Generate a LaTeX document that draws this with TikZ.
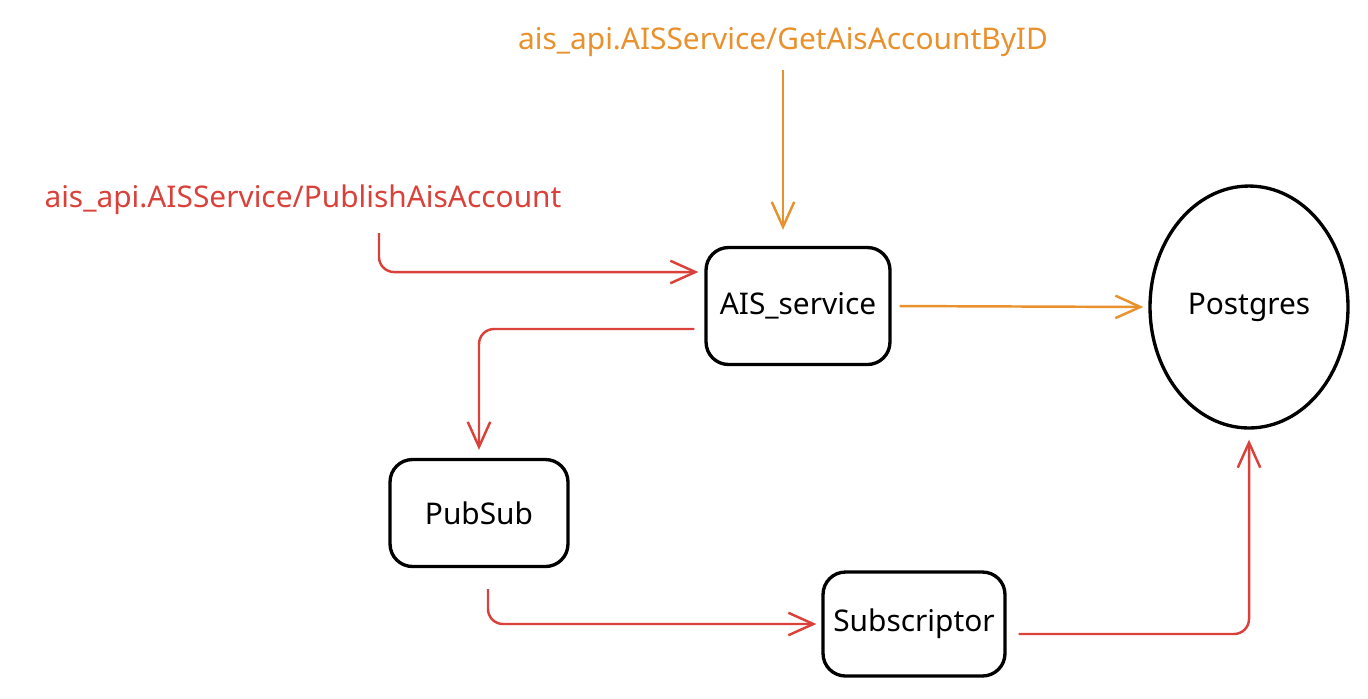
\documentclass[tikz,border=0pt]{standalone}
\usepackage{fontspec}
\setmainfont{Noto Sans}
\usepackage{tikz}
\usetikzlibrary{arrows.meta,calc,shapes.geometric}
\definecolor{callorange}{HTML}{E8912D}
\definecolor{callred}{HTML}{D9413A}

\begin{document}
\begin{tikzpicture}[x=0.02cm,y=-0.02cm,
    box/.style={draw=black,line width=1.9pt,rounded corners=0.45cm,fill=white,font=\fontsize{17}{20}\selectfont},
    dbnode/.style={draw=black,line width=1.9pt,ellipse,minimum width=3.96cm,minimum height=4.84cm,inner sep=0pt,font=\fontsize{17}{20}\selectfont},
    calltext/.style={font=\fontsize{17}{20}\selectfont},
    flow/.style={line width=1.4pt,rounded corners=0.3cm,-{Straight Barb[length=0.5cm,width=0.45cm,line width=1.4pt]}},
    readflow/.style={flow,draw=callorange},
    writeflow/.style={flow,draw=callred}]
    \useasboundingbox (0,0) rectangle (1368,698);
    % calls
    \node[calltext,text=callorange] (getcall) at (783,42) {ais\_api.AISService/GetAisAccountByID};
    \node[calltext,text=callred] (pubcall) at (303,200) {ais\_api.AISService/PublishAisAccount};
    % services
    \node[box,minimum width=3.68cm,minimum height=2.34cm] (ais) at (798,306) {AIS\_service};
    \node[box,minimum width=3.56cm,minimum height=2.14cm] (pubsub) at (479,513) {PubSub};
    \node[box,minimum width=3.64cm,minimum height=2.08cm] (sub) at (914,624) {Subscriptor};
    \node[dbnode] (pg) at (1249,307) {Postgres};
    % free ends
    \coordinate (gettail) at (783,70);
    \coordinate (pubtail) at (379,233);
    % read path
    \draw[readflow,shorten >=0.32cm] (gettail) -- (gettail |- ais.north);
    \draw[readflow,shorten <=0.16cm,shorten >=0.1cm] (ais.east) -- (pg.west);
    % write path
    \draw[writeflow,shorten >=0.12cm] (pubtail) |- ([yshift=0.68cm]ais.west);
    \draw[writeflow,shorten <=0.2cm,shorten >=0.16cm] ([yshift=-0.46cm]ais.west) -| (pubsub.north);
    \draw[writeflow,shorten <=0.42cm,shorten >=0.1cm] ([xshift=0.18cm]pubsub.south) |- (sub.west);
    \draw[writeflow,shorten <=0.24cm,shorten >=0.2cm] ([yshift=-0.2cm]sub.east) -| (pg.south);
\end{tikzpicture}
\end{document}
